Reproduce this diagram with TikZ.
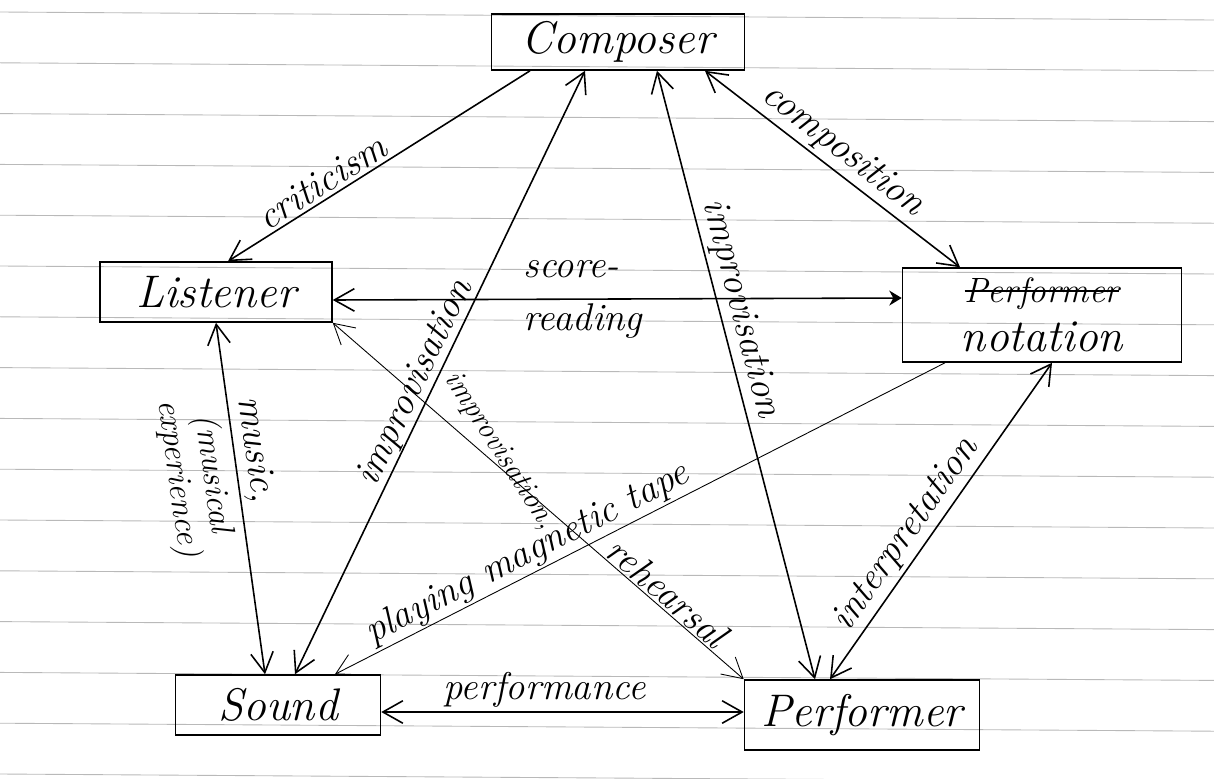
\documentclass[tikz,border=0pt]{standalone}
\usepackage{fontspec}
\usetikzlibrary{arrows.meta, positioning}
\newsavebox\strikebox
\newcommand\strikeword[1]{\sbox\strikebox{#1}\rlap{\rule[0.3em]{\wd\strikebox}{0.9pt}}\usebox\strikebox}
\tikzset{
    rule/.style={gray!55, line width=0.5pt},
    word/.style={draw, line width=0.9pt, inner sep=0pt, font=\fontsize{26}{30}\selectfont\itshape},
    lbl/.style={inner sep=2pt, font=\fontsize{22}{26}\selectfont\itshape},
    small lbl/.style={inner sep=2pt, font=\fontsize{19}{20}\selectfont\itshape},
    faint/.style={line width=0.5pt}
}

\begin{document}
\begin{tikzpicture}[x=0.02cm, y=-0.02cm, line width=0.9pt, >={Straight Barb[length=4mm,width=4.5mm]}]
    \useasboundingbox (0,0) rectangle (1214,778);

    % Ruled paper
    \foreach \k in {0,...,15}
        \draw[rule] (0,{12+50.8*\k}) -- (1214,{20+50.8*\k});

    % Boxes
    \node[word, minimum width=5.06cm, minimum height=1.12cm] (comp) at (618,42) {Composer};
    \node[word, minimum width=4.64cm, minimum height=1.2cm] (lis) at (216,292) {Listener};
    \node[word, minimum width=5.58cm, minimum height=1.88cm, align=center] (nota) at (1042,315) {{\fontsize{20}{20}\selectfont\strikeword{Performer}}\\[-2pt]notation};
    \node[word, minimum width=4.1cm, minimum height=1.2cm] (snd) at (278,705) {Sound};
    \node[word, minimum width=4.7cm, minimum height=1.4cm] (perf) at (862,715) {Performer};

    % Composer links
    \draw[<-] ([xshift=0.24cm]lis.north) -- node[lbl, sloped, above, pos=0.34] {criticism} ([xshift=-1.76cm]comp.south);
    \draw[<->] ([xshift=1.74cm]comp.south) -- node[lbl, sloped, above, pos=0.49] {composition} ([xshift=-1.64cm]nota.north);
    \draw[<->] ([xshift=0.34cm]snd.north) -- node[lbl, sloped, above, pos=0.47, inner sep=0pt] {improvisation} ([xshift=-0.66cm]comp.south);
    \draw[<->] ([xshift=0.78cm]comp.south) -- node[lbl, sloped, above, pos=0.4] {improvisation} ([xshift=-0.94cm]perf.north);

    % Listener links
    \draw[<->] (lis.south) -- node[lbl, sloped, above, pos=0.37] {music,}
        node[small lbl, sloped, below, pos=0.42, inner sep=4pt, align=center] {(musical\\experience)} ([xshift=-0.26cm]snd.north);
    \draw[{Straight Barb[length=4mm,width=4.5mm]}-{Stealth[length=2.5mm,width=3mm]}] ([yshift=-0.16cm]lis.east) -- node[lbl, pos=0.44, align=left] {score-\\[4pt]reading} ([yshift=0.34cm]nota.west);
    \draw[faint, <->] (lis.south east) -- node[small lbl, pos=0.38, rotate=-57, anchor=south, inner sep=0pt, font=\fontsize{17}{18}\selectfont\itshape] {improvisation,}
        node[lbl, sloped, above, pos=0.79, inner sep=1pt] {rehearsal} (perf.north west);

    % Notation links
    \draw[faint, <-] ([xshift=1.14cm]snd.north) -- node[lbl, sloped, above, pos=0.33, inner sep=1pt] {playing magnetic tape} ([xshift=-1.94cm]nota.south);
    \draw[<->] ([xshift=-0.64cm]perf.north) -- node[lbl, sloped, above, pos=0.42] {interpretation} ([xshift=0.2cm]nota.south);

    % Sound to performer
    \draw[<->] ([yshift=-0.14cm]snd.east) -- node[lbl, above, pos=0.45] {performance} ([yshift=0.06cm]perf.west);
\end{tikzpicture}
\end{document}
